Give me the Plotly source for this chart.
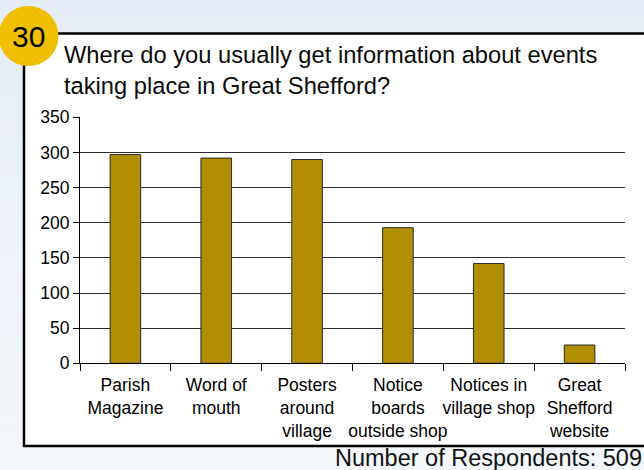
import plotly.graph_objects as go

# ---- data ----
categories = [
    "Parish<br>Magazine",
    "Word of<br>mouth",
    "Posters<br>around<br>village",
    "Notice<br>boards<br>outside shop",
    "Notices in<br>village shop",
    "Great<br>Shefford<br>website",
]
respondents = [297, 292, 290, 193, 142, 26]
y_ticks = [0, 50, 100, 150, 200, 250, 300, 350]
title_lines = ["Where do you usually get information about events",
               "taking place in Great Shefford?"]
question_no = "30"
footer = "Number of Respondents: 509"

W, H = 644, 470
FONT = "Liberation Sans, Arial, Helvetica, sans-serif"


def px(x):
    return x / W


def py(y):
    return 1 - y / H


fig = go.Figure()
fig.add_trace(go.Bar(
    x=categories,
    y=respondents,
    marker=dict(color="#B08E00", line=dict(color="#2a2a2a", width=1)),
    hoverinfo="x+y",
))

shapes = []
# background gradient bands
n = 24
c0 = (0xE6, 0xEC, 0xF5)
c1 = (0xF4, 0xF8, 0xFC)
for i in range(n):
    t = i / (n - 1)
    c = tuple(round(a + (b - a) * t) for a, b in zip(c0, c1))
    shapes.append(dict(type="rect", xref="paper", yref="paper",
                       x0=0, x1=1, y0=py(H * (i + 1) / n), y1=py(H * i / n),
                       fillcolor="rgb(%d,%d,%d)" % c, line=dict(width=0),
                       layer="below"))
# white panel with black border
shapes.append(dict(type="rect", xref="paper", yref="paper",
                   x0=px(24), x1=px(680), y0=py(446), y1=py(33.5),
                   fillcolor="white", line=dict(color="black", width=2.5),
                   layer="below"))
# yellow badge
shapes.append(dict(type="circle", xref="paper", yref="paper",
                   x0=px(-1.5), x1=px(58.5), y0=py(66), y1=py(6),
                   fillcolor="#EFBF00", line=dict(width=0), layer="below"))

annotations = [
    dict(text=question_no, xref="paper", yref="paper", x=px(28.5), y=py(37),
         xanchor="center", yanchor="middle", showarrow=False,
         font=dict(family=FONT, size=30, color="black")),
    dict(text="<br>".join(title_lines), xref="paper", yref="paper",
         x=px(61.5), y=py(39.5), xanchor="left", yanchor="top", align="left",
         showarrow=False, font=dict(family=FONT, size=23.7, color="#0a0a0a")),
    dict(text=footer, xref="paper", yref="paper", x=px(643.5), y=py(458),
         xanchor="right", yanchor="middle", showarrow=False,
         font=dict(family=FONT, size=23.5, color="#111")),
]

fig.update_layout(
    width=W, height=H,
    margin=dict(l=0, r=0, t=0, b=0, autoexpand=False),
    paper_bgcolor="#EEF2F9",
    plot_bgcolor="rgba(0,0,0,0)",
    showlegend=False,
    bargap=0.663,
    shapes=shapes,
    annotations=annotations,
    xaxis=dict(
        domain=[px(80), px(625)],
        automargin=False,
        showline=True, linecolor="black", linewidth=1,
        ticks="outside", tickson="boundaries", ticklen=7, tickcolor="black",
        tickangle=0, ticklabelstandoff=6,
        tickfont=dict(family=FONT, size=17.5, color="black"),
        showgrid=False,
    ),
    yaxis=dict(
        domain=[py(363.3), py(117.3)],
        automargin=False,
        range=[0, 350],
        tickvals=y_ticks,
        showline=True, linecolor="black", linewidth=1,
        ticks="outside", ticklen=6, tickcolor="black",
        tickfont=dict(family=FONT, size=17.5, color="black"),
        showgrid=True, gridcolor="#2b2b2b", gridwidth=1,
        zeroline=False,
    ),
)

fig.write_html(
    "out.html",
    post_script="document.body.style.margin='0';document.body.style.overflow='hidden';",
)
